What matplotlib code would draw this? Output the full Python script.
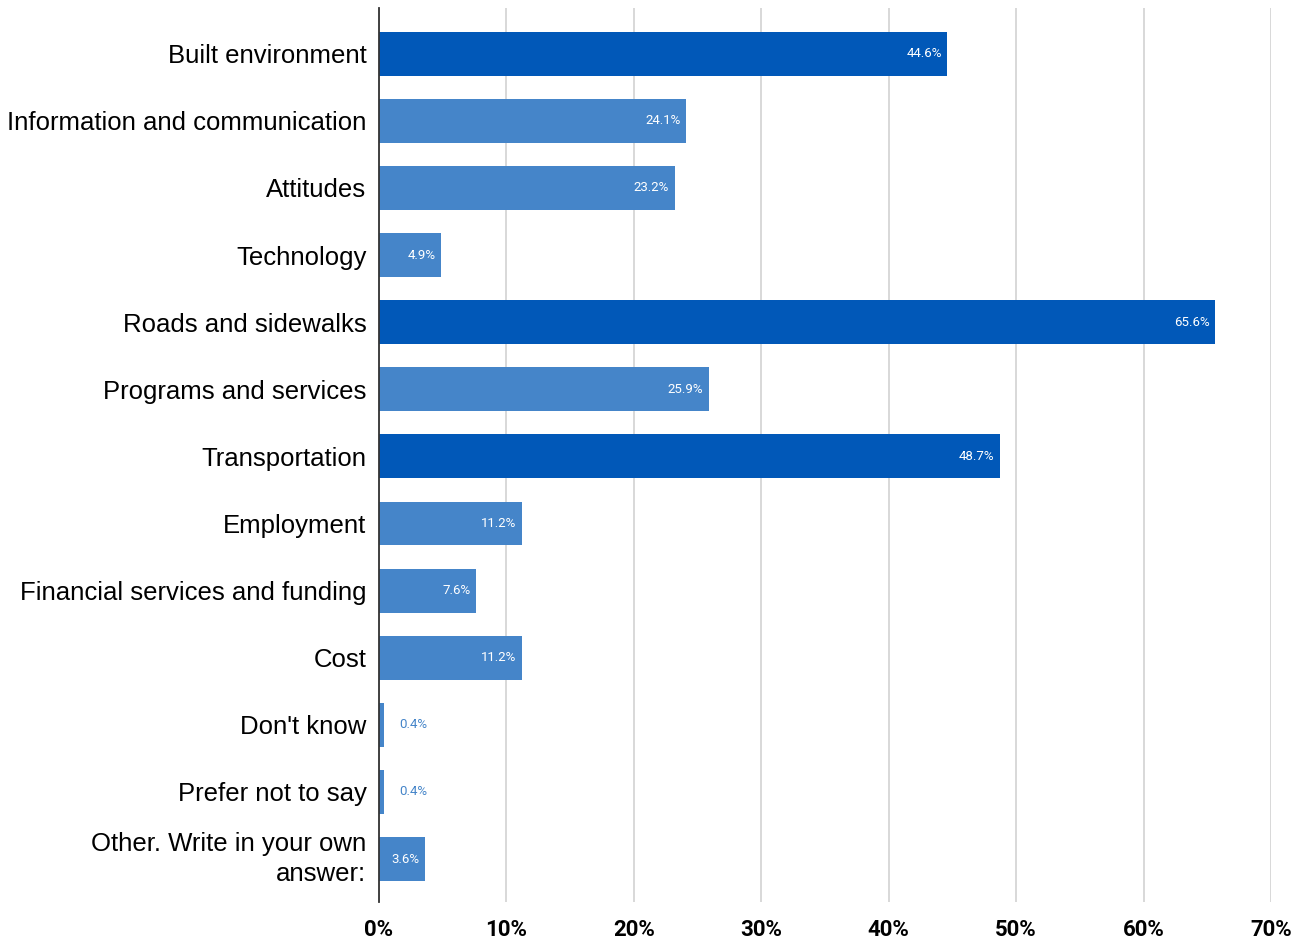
import matplotlib.pyplot as plt
from matplotlib.ticker import FuncFormatter

# --- данные ---
categories = ["Built environment", "Information and communication", "Attitudes",
              "Technology", "Roads and sidewalks", "Programs and services",
              "Transportation", "Employment", "Financial services and funding",
              "Cost", "Don't know", "Prefer not to say",
              "Other. Write in your own\nanswer:"]
values = [44.6, 24.1, 23.2, 4.9, 65.6, 25.9, 48.7, 11.2, 7.6, 11.2, 0.4, 0.4, 3.6]
highlight = ["Built environment", "Roads and sidewalks", "Transportation"]

DARK, LIGHT = "#0158b8", "#4585c9"
plt.rcParams['font.family'] = ['Roboto', 'DejaVu Sans']

fig = plt.figure(figsize=(13.04, 9.41), dpi=100)
ax = fig.add_axes([0.2906, 0.0414, 0.6841, 0.9501])

ys = list(range(len(categories)))
colors = [DARK if c in highlight else LIGHT for c in categories]
bars = ax.barh(ys, values, height=0.655, color=colors, zorder=3)

for b, v, col in zip(bars, values, colors):
    yc = b.get_y() + b.get_height() / 2
    if v < 1:
        ax.annotate(f"{v}%", (v, yc), xytext=(11, 0), textcoords="offset points",
                    ha="left", va="center", fontsize=9.5, color=col, zorder=4)
    else:
        ax.annotate(f"{v}%", (v, yc), xytext=(-4, 0), textcoords="offset points",
                    ha="right", va="center", fontsize=9.5, color="white", zorder=4)

ax.set_xlim(0, 70)
ax.set_ylim(12.64, -0.68)
ax.set_xticks(range(0, 71, 10))
ax.xaxis.set_major_formatter(FuncFormatter(lambda x, _: f"{x:.0f}%"))
ax.set_yticks(ys)
ax.set_yticklabels(categories, fontsize=18.5, ha="right", linespacing=1.3,
                   family=['Liberation Sans', 'DejaVu Sans'])
ax.get_yticklabels()[-1].set_va("center")
for t in ax.get_xticklabels():
    t.set_fontweight("bold"); t.set_fontsize(16)
ax.tick_params(axis="y", length=0, pad=9)
ax.tick_params(axis="x", length=0, pad=12)
ax.grid(axis="x", color="#d6d6d6", lw=1.3, zorder=0)
for s in ["top", "right", "bottom"]:
    ax.spines[s].set_visible(False)
ax.spines["left"].set_color("#333333"); ax.spines["left"].set_linewidth(1.3)
ax.spines["left"].set_zorder(5)

fig.savefig("out.png", dpi=100)
